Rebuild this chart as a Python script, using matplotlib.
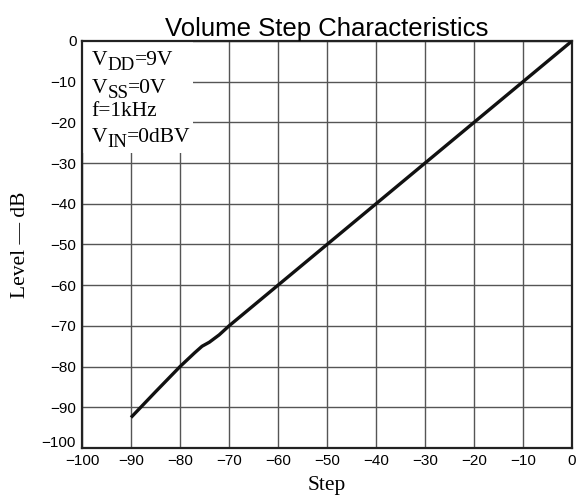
import numpy as np
import matplotlib
matplotlib.use("Agg")
import matplotlib.pyplot as plt
from matplotlib.patches import Rectangle
from matplotlib.transforms import offset_copy

step = [-90, -85, -80, -77, -75.5, -74, -72, -70, -60, -40, -20, 0]
level = [-92.5, -86.2, -80, -76.6, -75, -74, -72.2, -70, -60, -40, -20, 0]

xticks = np.arange(-100, 1, 10)
yticks = np.arange(-100, 1, 10)

# (main, subscript, rest, baseline level)
info_lines = [("V", "DD", "=9V", -5.9),
              ("V", "SS", "=0V", -12.8),
              ("f=1kHz", "", "", -18.4),
              ("V", "IN", "=0dBV", -24.8)]

fig = plt.figure(figsize=(5.78, 4.98), dpi=100)
ax = fig.add_axes([82 / 578, 50 / 498, 490 / 578, 407 / 498])

ax.plot(step, level, color='#111111', lw=2.4, solid_capstyle='butt', zorder=3)

ax.set_xlim(-100, 0)
ax.set_ylim(-100, 0)
ax.set_xticks(xticks)
ax.set_yticks(yticks)
ax.set_yticklabels([''] + ['\u2212%d' % -v if v else '0' for v in yticks[1:]])
ax.tick_params(length=0, labelsize=11)
ax.tick_params(axis='x', pad=4)
ax.tick_params(axis='y', pad=4)
for lab in ax.get_xticklabels() + ax.get_yticklabels():
    lab.set_family('Liberation Sans')
ax.text(-0.012, 0.012, '\u2212100', transform=ax.transAxes, ha='right', va='center',
        family='Liberation Sans', fontsize=11)
ax.grid(True, color='#555555', lw=1.0)
for s in ax.spines.values():
    s.set_linewidth(1.6)
    s.set_color('#222222')

ax.set_title("Volume Step Characteristics", family='Liberation Sans', fontsize=18.5, pad=3)
ax.set_xlabel("Step", family='Liberation Serif', fontsize=15.5, labelpad=6)
ax.set_ylabel("Level — dB", family='Liberation Serif', fontsize=15.5, labelpad=15)

ax.add_patch(Rectangle((0, 0.725), 0.2265, 0.275, transform=ax.transAxes,
                       facecolor='white', edgecolor='none', zorder=2.5))

renderer = fig.canvas.get_renderer()
fs = 15.5
for main, sub, rest, yv in info_lines:
    t = ax.text(-98, yv, main, family='Liberation Serif', fontsize=fs, va='baseline',
                ha='left', zorder=4)
    if not sub:
        continue
    bb = t.get_window_extent(renderer)
    x0 = ax.transData.inverted().transform((bb.x1, 0))[0]
    tr = offset_copy(ax.transData, fig=fig, x=0, y=-5, units='dots')
    s = ax.text(x0, yv, sub, family='Liberation Serif', fontsize=fs * 0.88,
                va='baseline', ha='left', transform=tr, zorder=4)
    bb = s.get_window_extent(renderer)
    x1 = ax.transData.inverted().transform((bb.x1, 0))[0]
    ax.text(x1, yv, rest, family='Liberation Serif', fontsize=fs, va='baseline',
            ha='left', zorder=4)

fig.savefig("out.png", dpi=100)
